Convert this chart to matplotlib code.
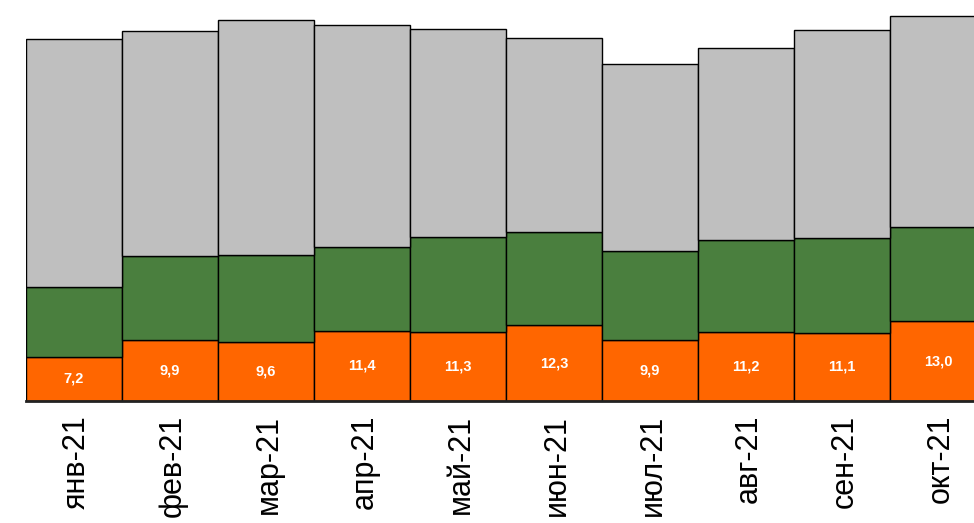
import matplotlib
matplotlib.use("Agg")
import matplotlib.pyplot as plt
import matplotlib.transforms as mtransforms
import numpy as np

plt.rcParams['font.family'] = ['Liberation Sans', 'DejaVu Sans']

months = ["янв-21", "фев-21", "мар-21", "апр-21", "май-21",
          "июн-21", "июл-21", "авг-21", "сен-21", "окт-21"]
orange_vals = [7.2, 9.9, 9.6, 11.4, 11.3, 12.3, 9.9, 11.2, 11.1, 13.0]
green_vals = [11.3, 13.7, 14.1, 13.6, 15.4, 15.2, 14.5, 15.0, 15.4, 15.3]
grey_vals = [40.4, 36.6, 38.3, 36.1, 33.8, 31.5, 30.4, 31.2, 33.8, 34.3]

fig = plt.figure(figsize=(9.74, 5.23), dpi=100)
ax = fig.add_axes([26 / 974, 122 / 523, 948 / 974, 401 / 523])

x = np.arange(len(months))
orange = np.array(orange_vals)
green = np.array(green_vals)
grey = np.array(grey_vals)

ax.bar(x, orange, width=1.0, color="#FF6600", edgecolor="black", linewidth=1.0)
ax.bar(x, green, width=1.0, bottom=orange, color="#4A7F3E",
       edgecolor="black", linewidth=1.0)
ax.bar(x, grey, width=1.0, bottom=orange + green, color="#BFBFBF",
       edgecolor="black", linewidth=1.0)

for xi, v in zip(x, orange_vals):
    ax.text(xi, v / 2, f"{v:.1f}".replace(".", ","), ha="center", va="center",
            color="white", fontsize=10.5, fontweight="bold")

ax.set_xlim(-0.5, 9.375)
ax.set_ylim(0, 401 / 6.15)

ax.set_xticks(x)
ax.set_xticklabels(months, rotation=90, fontsize=22)
ax.tick_params(axis="x", length=0, pad=10)
shift = mtransforms.ScaledTranslation(3 / 100, 0, fig.dpi_scale_trans)
for lbl in ax.get_xticklabels():
    lbl.set_transform(lbl.get_transform() + shift)
ax.set_yticks([])

for side in ("left", "right", "top"):
    ax.spines[side].set_visible(False)
ax.spines["bottom"].set_linewidth(2.0)
ax.spines["bottom"].set_color("#222222")

fig.savefig("out.png", dpi=100)
